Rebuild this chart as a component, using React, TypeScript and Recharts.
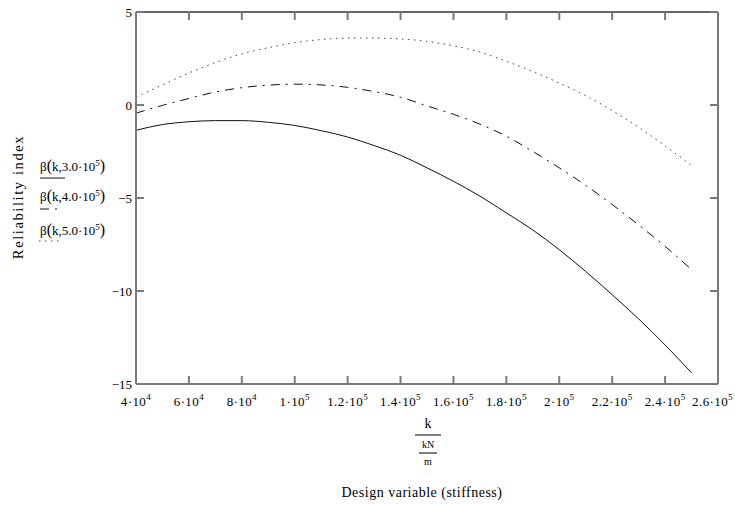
import React from "react";
import { LineChart, Line, XAxis, YAxis } from "recharts";

const kValues = [
  40000, 50000, 60000, 70000, 80000, 90000, 100000, 110000, 120000, 130000, 140000,
  150000, 160000, 170000, 180000, 190000, 200000, 210000, 220000, 230000, 240000, 250000,
];
const beta30 = [
  -1.36, -1.05, -0.9, -0.84, -0.84, -0.93, -1.1, -1.38, -1.72, -2.18, -2.7,
  -3.38, -4.1, -4.9, -5.8, -6.72, -7.78, -8.95, -10.2, -11.5, -12.9, -14.4,
];
const beta40 = [
  -0.44, -0.02, 0.35, 0.7, 0.93, 1.07, 1.12, 1.08, 0.95, 0.72, 0.42,
  -0.05, -0.5, -1.03, -1.68, -2.5, -3.38, -4.32, -5.35, -6.45, -7.6, -8.85,
];
const beta50 = [
  0.42, 1.08, 1.72, 2.28, 2.75, 3.08, 3.35, 3.52, 3.6, 3.6, 3.55,
  3.42, 3.18, 2.85, 2.35, 1.8, 1.18, 0.5, -0.3, -1.2, -2.2, -3.25,
];

const xTicks = [40000, 60000, 80000, 100000, 120000, 140000, 160000, 180000, 200000, 220000, 240000, 260000];
const xTickMantissas = ["4", "6", "8", "1", "1.2", "1.4", "1.6", "1.8", "2", "2.2", "2.4", "2.6"];
const xTickExponents = ["4", "4", "4", "5", "5", "5", "5", "5", "5", "5", "5", "5"];
const yTicks = [5, 0, -5, -10, -15];
const yTickLabels = ["5", "0", "\u22125", "\u221210", "\u221215"];

const data = kValues.map((k, i) => ({ k, b3: beta30[i], b4: beta40[i], b5: beta50[i] }));

const serif = "'Liberation Serif', 'Times New Roman', serif";
const frame = "#7a7a7a";
// plot box size (chart 735x505 minus margins and axis sizes)
const PLOT_W = 735 - 96 - 40 - 16 - 1;
const PLOT_H = 505 - 11 - 1 - 91 - 30;

// bottom tick: inward mark, label, and the matching inward mark on the top edge
function BottomTick(props: any) {
  const { x, y, payload } = props;
  const i = xTicks.indexOf(payload.value);
  const last = i === xTicks.length - 1;
  return (
    <g>
      <line x1={x} x2={x} y1={y} y2={y - 8} stroke={frame} strokeWidth={2} />
      <line x1={x} x2={x} y1={y - PLOT_H} y2={y - PLOT_H + 8} stroke={frame} strokeWidth={2} />
      <text
        x={last ? 733 : x}
        y={y + 22}
        textAnchor={last ? "end" : "middle"}
        fontSize={13}
        letterSpacing={0.4}
        fontFamily={serif}
        fill="#000"
      >
        {xTickMantissas[i]}
        {"\u00b710"}
        <tspan dy={-6} fontSize={9}>{xTickExponents[i]}</tspan>
      </text>
    </g>
  );
}

function LeftTick(props: any) {
  const { x, y, payload } = props;
  const i = yTicks.indexOf(payload.value);
  return (
    <g>
      <line x1={x} x2={x + 8} y1={y} y2={y} stroke={frame} strokeWidth={2} />
      <line x1={x + PLOT_W} x2={x + PLOT_W - 8} y1={y} y2={y} stroke={frame} strokeWidth={2} />
      <text x={x - 4} y={y + 5} textAnchor="end" fontSize={13} fontFamily={serif} fill="#000">
        {yTickLabels[i]}
      </text>
    </g>
  );
}

function LegendLabel({ x, y, value }: { x: number; y: number; value: string }) {
  return (
    <text x={x} y={y} fontSize={13} fontFamily={serif} fill="#000">
      {"\u03b2"}
      <tspan fontSize={16}>(</tspan>
      {"k," + value + "\u00b710"}
      <tspan dy={-5} fontSize={9}>5</tspan>
      <tspan dy={5} fontSize={16}>)</tspan>
    </text>
  );
}

export default function App() {
  return (
    <div style={{ position: "absolute", left: 0, top: 0, width: 735, height: 505, background: "#fff" }}>
      <LineChart width={735} height={505} data={data} margin={{ top: 11, right: 16, bottom: 91, left: 96 }}>
        <XAxis
          dataKey="k"
          type="number"
          domain={[40000, 260000]}
          ticks={xTicks}
          interval={0}
          height={30}
          tickSize={0}
          tickMargin={0}
          tickLine={false}
          axisLine={{ stroke: frame, strokeWidth: 2 }}
          tick={<BottomTick />}
        />
        <XAxis
          xAxisId="top"
          orientation="top"
          dataKey="k"
          type="number"
          domain={[40000, 260000]}
          height={1}
          tickLine={false}
          axisLine={{ stroke: "#333", strokeWidth: 1.5 }}
          tick={false}
        />
        <YAxis
          type="number"
          domain={[-15, 5]}
          ticks={yTicks}
          interval={0}
          width={40}
          tickSize={0}
          tickMargin={0}
          tickLine={false}
          axisLine={{ stroke: frame, strokeWidth: 2 }}
          tick={<LeftTick />}
        />
        <YAxis
          yAxisId="right"
          orientation="right"
          type="number"
          domain={[-15, 5]}
          width={1}
          tickLine={false}
          axisLine={{ stroke: frame, strokeWidth: 2 }}
          tick={false}
        />
        <Line dataKey="b3" type="monotone" stroke="#111" strokeWidth={1} dot={false} isAnimationActive={false} />
        <Line dataKey="b4" type="monotone" stroke="#111" strokeWidth={1} strokeDasharray="9 6 2 6" dot={false} isAnimationActive={false} />
        <Line dataKey="b5" type="monotone" stroke="#444" strokeWidth={1} strokeDasharray="1.5 4.5" dot={false} isAnimationActive={false} />
      </LineChart>
      <svg width={735} height={505} style={{ position: "absolute", left: 0, top: 0, pointerEvents: "none" }}>
        <text
          x={20}
          y={197}
          transform="rotate(-90 20 197)"
          textAnchor="middle"
          dominantBaseline="middle"
          fontSize={14.5}
          letterSpacing={1.6}
          fontFamily={serif}
          fill="#000"
        >
          Reliability index
        </text>
        <LegendLabel x={40} y={171} value="3.0" />
        <line x1={40} x2={65} y1={178} y2={178} stroke="#111" strokeWidth={1} />
        <LegendLabel x={40} y={201} value="4.0" />
        <line x1={40} x2={58} y1={209} y2={209} stroke="#111" strokeWidth={1} strokeDasharray="9 6 2 6" />
        <LegendLabel x={40} y={235} value="5.0" />
        <line x1={39} x2={62} y1={241} y2={241} stroke="#444" strokeWidth={1} strokeDasharray="1.5 4.5" />
        <text x={428} y={428} textAnchor="middle" fontSize={14} fontFamily={serif} fill="#000">k</text>
        <line x1={415} x2={441} y1={435} y2={435} stroke="#000" strokeWidth={1} />
        <text x={428} y={448} textAnchor="middle" fontSize={10} fontFamily={serif} fill="#000">kN</text>
        <line x1={419} x2={437} y1={453} y2={453} stroke="#000" strokeWidth={1} />
        <text x={428} y={465} textAnchor="middle" fontSize={10} fontFamily={serif} fill="#000">m</text>
        <text x={422} y={497} textAnchor="middle" fontSize={14} letterSpacing={0.5} fontFamily={serif} fill="#000">
          Design variable (stiffness)
        </text>
      </svg>
    </div>
  );
}
